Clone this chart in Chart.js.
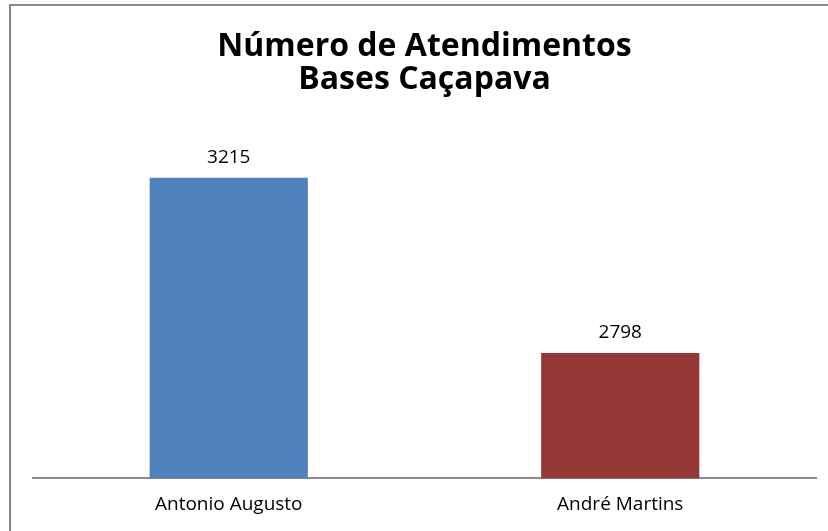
<!DOCTYPE html>
<html>
<head>
<meta charset="utf-8">
<script src="https://cdn.jsdelivr.net/npm/chart.js@4/dist/chart.umd.min.js"></script>
<style>
  body { margin: 0; background: #fff; }
  #wrap { position: relative; width: 828px; height: 531px; overflow: hidden; }
  #frame { position: absolute; left: 9px; top: 4px; width: 900px; height: 600px;
           border-left: 2px solid #888; border-top: 2px solid #888; }
  canvas { position: absolute; left: 0; top: 0; }
</style>
</head>
<body>
<div id="wrap">
  <div id="frame"></div>
  <canvas id="myChart" width="828" height="531"></canvas>
</div>
<script>
// chart values
const categories = ['Antonio Augusto', 'André Martins'];
const atendimentos = [3215, 2798];
const barColors = ['#4F81BD', '#953735'];
const titleLines = ['Número de Atendimentos', 'Bases Caçapava'];
const axisMin = 2500;
const axisMax = 3400;

// writes the value above each bar
const valueLabels = {
  id: 'valueLabels',
  afterDatasetsDraw(chart) {
    const ctx = chart.ctx;
    const meta = chart.getDatasetMeta(0);
    ctx.save();
    ctx.font = '19px "Open Sans"';
    ctx.fillStyle = '#000';
    ctx.textAlign = 'center';
    ctx.textBaseline = 'alphabetic';
    meta.data.forEach(function (bar, i) {
      ctx.fillText(String(atendimentos[i]), bar.x, bar.y - 14.5);
    });
    ctx.restore();
  }
};

function generateGraph()
{
  const data = {
    labels: categories,
    datasets: [{
      data: atendimentos,
      backgroundColor: barColors,
      borderWidth: 0,
      barPercentage: 0.404,
      categoryPercentage: 1.0
    }]
  };

  const config = {
    type: 'bar',
    data: data,
    options: {
      responsive: false,
      animation: false,
      layout: { padding: { left: 33, right: 12, top: 10, bottom: 0 } },
      plugins: {
        legend: { display: false },
        tooltip: { enabled: false },
        title: {
          display: true,
          text: titleLines,
          color: '#000',
          font: { family: 'Open Sans', size: 32, weight: 'bold', lineHeight: 1.031 },
          padding: { top: 20.3, bottom: 3.7 }
        }
      },
      scales: {
        y: {
          display: false,
          min: axisMin,
          max: axisMax
        },
        x: {
          grid: { display: false, drawTicks: false },
          border: { display: true, color: '#8c8c8c', width: 2 },
          ticks: {
            color: '#000',
            font: { family: 'Open Sans', size: 19 },
            padding: 15
          }
        }
      }
    },
    plugins: [valueLabels]
  };

  const myChart = new Chart(document.getElementById('myChart'), config);
}
generateGraph();
</script>
</body>
</html>
